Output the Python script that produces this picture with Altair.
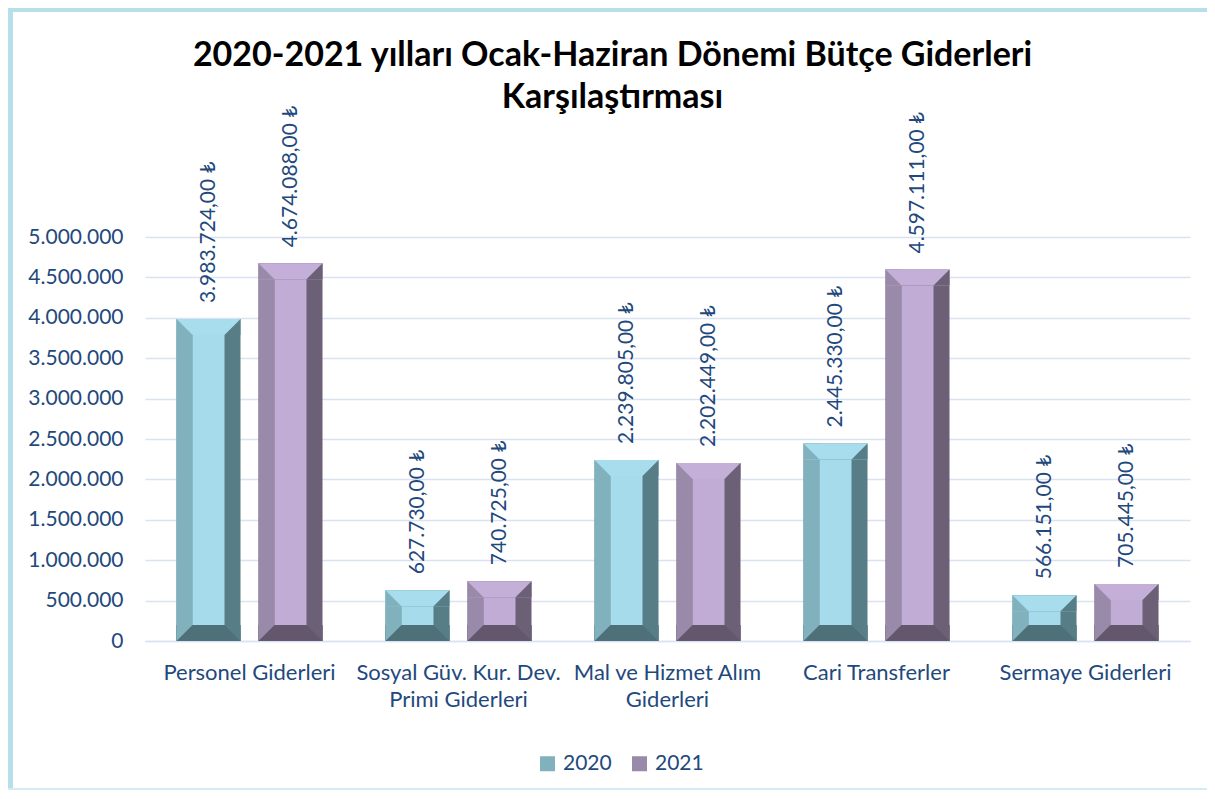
import json
import altair as alt
import pandas as pd

# ---------------- data ----------------
categories = [
    "Personel Giderleri",
    "Sosyal Güv. Kur. Dev. Primi Giderleri",
    "Mal ve Hizmet Alım Giderleri",
    "Cari Transferler",
    "Sermaye Giderleri",
]
category_lines = [
    ["Personel Giderleri"],
    ["Sosyal Güv. Kur. Dev.", "Primi Giderleri"],
    ["Mal ve Hizmet Alım", "Giderleri"],
    ["Cari Transferler"],
    ["Sermaye Giderleri"],
]
years = ["2020", "2021"]
values_2020 = [3983724, 627730, 2239805, 2445330, 566151]
values_2021 = [4674088, 740725, 2202449, 4597111, 705445]
y_ticks = [0, 500000, 1000000, 1500000, 2000000, 2500000, 3000000,
           3500000, 4000000, 4500000, 5000000]
title_lines = ["2020-2021 yılları Ocak-Haziran Dönemi Bütçe Giderleri",
               "Karşılaştırması"]

# ---------------- styles ----------------
FONT = "Lato"
TEXT_COLOR = "#1f497d"
GRID = "#d9e2f3"
FRAME = "#b7dfe9"
col_top = ["#a7ddec", "#c3afd8"]
col_face = ["#a5dbeb", "#c0acd5"]
col_left = ["#80b1bd", "#9a8aa9"]
col_right = ["#577e86", "#6b6076"]
col_bottom = ["#4e7179", "#62576c"]
year_shift = [-41, 41]

rows = []
for i, c in enumerate(categories):
    rows.append({"category": c, "year": years[0], "value": values_2020[i]})
    rows.append({"category": c, "year": years[1], "value": values_2021[i]})
df = pd.DataFrame(rows)

label_expr_x = " : ".join(
    f"datum.label === {json.dumps(c, ensure_ascii=False)} ? {json.dumps(l, ensure_ascii=False)}"
    for c, l in zip(categories, category_lines)
) + " : datum.label"

W, H = 1045, 404
PAD = {"left": 137, "top": 229, "right": 17, "bottom": 150}
BW = 64
BEV = 16

base = alt.Chart(df).transform_calculate(
    zero="0",
    label="replace(replace(replace(format(datum.value, ',.2f'), regexp(',', 'g'), '_'), '.', ','), regexp('_', 'g'), '.') + ' ₺'",
)

x_enc = alt.X(
    "category:N",
    sort=categories,
    scale=alt.Scale(paddingInner=0.3, paddingOuter=0.15),
    axis=alt.Axis(
        title=None, labelAngle=0, labelExpr=label_expr_x, labelFont=FONT,
        labelFontSize=22, labelColor=TEXT_COLOR, labelPadding=21,
        labelLineHeight=27, labelLimit=400, labelOverlap=False,
        ticks=False, domain=True, domainColor=GRID, domainWidth=1.5,
        grid=False,
    ),
)
y_scale = alt.Scale(domain=[0, 5000000], nice=False)
y_axis = alt.Axis(
    title=None, values=y_ticks,
    labelExpr="replace(format(datum.value, ','), regexp(',', 'g'), '.')",
    labelFont=FONT, labelFontSize=21, labelColor=TEXT_COLOR, labelPadding=22,
    ticks=False, domain=False, grid=True, gridColor=GRID, gridWidth=1.5,
)

layers = []
for k, yr in enumerate(years):
    b = base.transform_filter(alt.datum.year == yr)
    off = year_shift[k]

    full = b.mark_bar(width=BW, xOffset=off, color=col_right[k]).encode(
        x=x_enc,
        y=alt.Y("value:Q", scale=y_scale, axis=y_axis, stack=None),
        y2="zero:Q")

    left = b.mark_bar(width=BEV, xOffset=off - (BW - BEV) / 2).encode(
        x=x_enc, y=alt.Y("value:Q", stack=None), y2="zero:Q",
        color=alt.Color(
            "year:N", scale=alt.Scale(domain=years, range=col_left),
            legend=alt.Legend(title=None, orient="none", legendX=392,
                              legendY=516, direction="horizontal",
                              symbolType="square", symbolSize=225,
                              symbolStrokeWidth=0,
                              labelFont=FONT, labelFontSize=21,
                              labelColor=TEXT_COLOR, labelOffset=5,
                              columnPadding=17, padding=0)))

    top = b.mark_bar(width=BW, xOffset=off, y2Offset=BEV,
                     color=col_top[k]).encode(
        x=x_enc, y=alt.Y("value:Q", stack=None), y2="value:Q")

    bottom = b.mark_bar(width=BW, xOffset=off, y2Offset=-BEV,
                        color=col_bottom[k]).encode(
        x=x_enc, y=alt.Y("zero:Q", stack=None), y2="zero:Q")

    face = b.mark_bar(width=BW - 2 * BEV, xOffset=off, yOffset=BEV,
                      y2Offset=-BEV, color=col_face[k]).encode(
        x=x_enc, y=alt.Y("value:Q", stack=None), y2="zero:Q")

    def tri(shape, dx, dy, yfield, col):
        return b.mark_point(shape=shape, size=BEV * BEV, filled=True,
                            opacity=1, strokeWidth=0, color=col,
                            xOffset=off + dx, yOffset=dy).encode(
            x=x_enc, y=alt.Y(f"{yfield}:Q"))

    sh = (BW - BEV) / 2
    t1 = tri("M-1,-1L-1,1L1,1Z", -sh, BEV / 2, "value", col_left[k])
    t2 = tri("M1,-1L1,1L-1,1Z", sh, BEV / 2, "value", col_right[k])
    t3 = tri("M-1,-1L1,-1L-1,1Z", -sh, -BEV / 2, "zero", col_left[k])
    t4 = tri("M-1,-1L1,-1L1,1Z", sh, -BEV / 2, "zero", col_right[k])

    labels = b.mark_text(angle=270, align="left", baseline="middle", dx=16,
                         xOffset=off, font=FONT, fontSize=21,
                         color=TEXT_COLOR).encode(
        x=x_enc, y=alt.Y("value:Q"), text="label:N")

    layers += [full, left, top, bottom, face, t1, t2, t3, t4, labels]

right_edge = W + PAD["right"]
bottom_edge = H + PAD["bottom"]
one = alt.Chart(pd.DataFrame({"k": [0]}))
frame_left = one.mark_rect(color=FRAME).encode(
    x=alt.value(-PAD["left"]), x2=alt.value(-PAD["left"] + 5),
    y=alt.value(-PAD["top"]), y2=alt.value(bottom_edge - 2))
frame_top = one.mark_rect(color=FRAME).encode(
    x=alt.value(-PAD["left"]), x2=alt.value(right_edge),
    y=alt.value(-PAD["top"]), y2=alt.value(-PAD["top"] + 4))
frame_bottom = one.mark_rect(color="#d3ecf2").encode(
    x=alt.value(-PAD["left"]), x2=alt.value(right_edge),
    y=alt.value(bottom_edge - 3), y2=alt.value(bottom_edge - 1))

chart = alt.layer(
    *layers, frame_left, frame_top, frame_bottom,
).properties(
    width=W, height=H,
    autosize=alt.AutoSizeParams(type="none"),
    padding=PAD,
    background="white",
    title=alt.TitleParams(
        text=title_lines, font=FONT, fontSize=34, fontWeight="bold",
        color="black", anchor="middle", dx=-55, dy=98, offset=-9,
        lineHeight=42,
    ),
).configure_view(stroke=None)

chart.save("out.html", embed_options={"renderer": "svg", "actions": False})
